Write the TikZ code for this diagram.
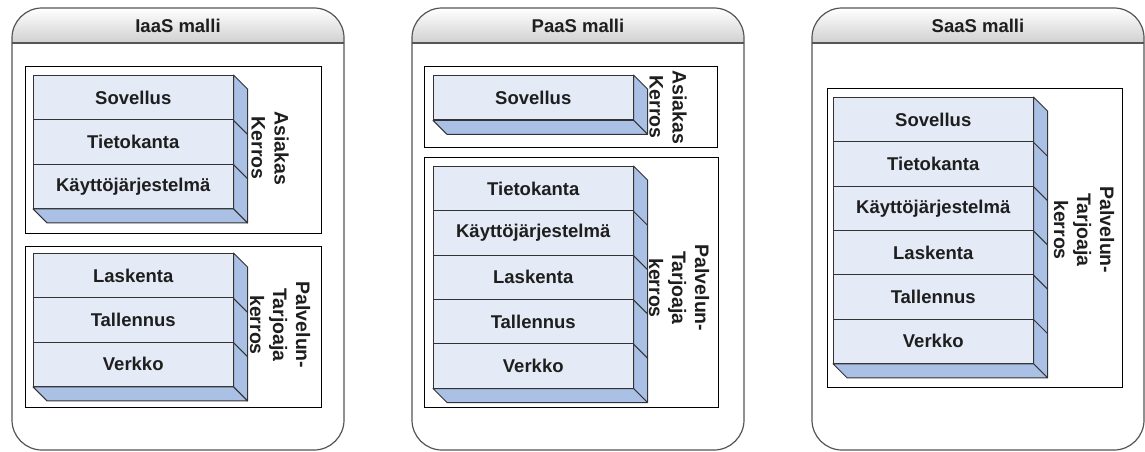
\documentclass[tikz,border=0pt]{standalone}
\usepackage{fontspec}
\setmainfont{Liberation Sans}
\usetikzlibrary{calc}

\definecolor{frontface}{HTML}{E4EAF6}
\definecolor{sideface}{HTML}{AAC0E4}
\definecolor{edge}{HTML}{333333}
\definecolor{ink}{HTML}{1E1E1E}
\definecolor{headgray}{HTML}{D0D0D0}
\definecolor{panelline}{HTML}{555555}

\tikzset{
  layer/.style={draw=edge, line width=1pt, fill=frontface, minimum width=199.5pt,
    minimum height=44.3pt, inner sep=0pt, anchor=north west,
    font=\fontsize{18.5}{22}\selectfont\bfseries, text=ink},
  depthface/.style={draw=edge, line width=1pt, fill=sideface, line join=round},
  layerframe/.style={draw=black, line width=0.9pt},
  panelbox/.style={draw=panelline, line width=1.2pt, rounded corners=30pt},
  paneltitle/.style={font=\fontsize{18.5}{22}\selectfont\bfseries, text=ink},
  sidelabel/.style={rotate=-90, align=center, inner sep=0pt,
    font=\fontsize{19.5}{23}\selectfont\bfseries, text=ink},
}

% A column of layers drawn as a box with a right side face and a bottom face.
% #1 name prefix, #2 left x, #3 top y, #4 number of layers, #5 layer texts
\newcommand\layerstack[5]{%
  \foreach [count=\i] \t in {#5} {
    \node[layer] (#1\i) at ({#2},{#3+(\i-1)*44.3}) {\t};
  }
  \draw[depthface] (#11.north east) -- ++(14,14)
    -- ($(#1#4.south east)+(14,14)$) -- (#1#4.south east) -- cycle;
  \draw[depthface] (#1#4.south west) -- (#1#4.south east)
    -- ++(14,14) -- ($(#1#4.south west)+(14,14)$) -- cycle;
  \foreach [count=\i] \t in {#5} {
    \ifnum\i<#4
      \draw[edge, line width=1pt] (#1\i.south east) -- ++(14,14);
    \fi
  }
}

% A service-model panel with a shaded, rounded title band.
% #1 title node name, #2 left x, #3 right x, #4 title
\newcommand\modelpanel[4]{%
  \fill[white, rounded corners=30pt] (#2,8) rectangle (#3,450);
  \begin{scope}
    \clip[rounded corners=30pt] (#2,8) rectangle (#3,450);
    \shade[top color=white, bottom color=headgray] (#2,8) rectangle (#3,43);
  \end{scope}
  \draw[panelline, line width=1.2pt] (#2,43) -- (#3,43);
  \draw[panelbox] (#2,8) rectangle (#3,450);
  \node[paneltitle] (#1) at ({(#2+#3)/2},25.5) {#4};
}

\begin{document}
\begin{tikzpicture}[x=1pt, y=-1pt]
  \useasboundingbox (0,0) rectangle (1145,452);

  % panels
  \modelpanel{iaas}{12}{344}{IaaS malli}
  \modelpanel{paas}{412}{744}{PaaS malli}
  \modelpanel{saas}{812}{1144}{SaaS malli}

  % IaaS
  \draw[layerframe] (25,66) rectangle (321,233);
  \draw[layerframe] (25,246) rectangle (321,407);
  \layerstack{ia}{33}{75}{3}{Sovellus,Tietokanta,Käyttöjärjestelmä}
  \layerstack{ib}{33}{253}{3}{Laskenta,Tallennus,Verkko}
  \node[sidelabel] (iaLbl) at (270,148) {Asiakas\\Kerros};
  \node[sidelabel] (ibLbl) at (280,325) {Palvelun-\\Tarjoaja\\kerros};

  % PaaS
  \draw[layerframe] (424,66) rectangle (717,147);
  \draw[layerframe] (424,157) rectangle (718,407);
  \layerstack{pa}{433}{75}{1}{Sovellus}
  \layerstack{pb}{433}{166}{5}{Tietokanta,Käyttöjärjestelmä,Laskenta,Tallennus,Verkko}
  \node[sidelabel] (paLbl) at (668,107) {Asiakas\\Kerros};
  \node[sidelabel] (pbLbl) at (679,288) {Palvelun-\\Tarjoaja\\kerros};

  % SaaS
  \draw[layerframe] (827,88) rectangle (1122,387);
  \layerstack{sa}{833}{97}{6}{Sovellus,Tietokanta,Käyttöjärjestelmä,Laskenta,Tallennus,Verkko}
  \node[sidelabel] (saLbl) at (1084,230) {Palvelun-\\Tarjoaja\\kerros};
\end{tikzpicture}
\end{document}
